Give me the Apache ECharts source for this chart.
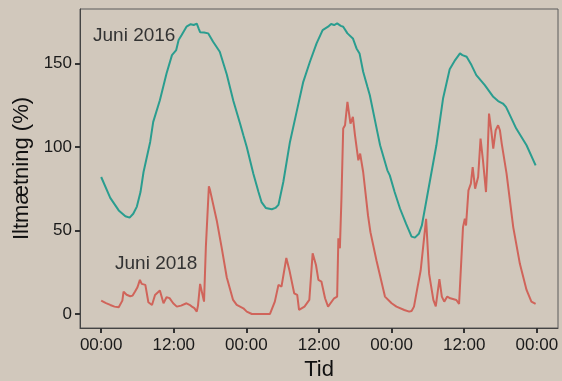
<!DOCTYPE html>
<html>
<head>
<meta charset="utf-8">
<script src="https://cdn.jsdelivr.net/npm/echarts@6/dist/echarts.min.js"></script>
<style>
html,body{margin:0;padding:0;background:#d1c8bc;}
#chart{width:562px;height:381px;}
</style>
</head>
<body>
<div id="chart"></div>
<script>
// Hours since start (x) and oxygen saturation % (y)
var hours2016 = [0,1.5,2.9,4.0,4.7,5.3,5.9,6.5,7.0,8.1,8.6,9.7,10.8,11.7,12.4,12.8,13.3,14.1,14.8,15.3,15.8,16.1,16.35,17.0,17.7,18.0,18.5,19.6,20.75,21.85,22.95,23.5,24.06,25.15,26.0,26.5,27.2,28.2,28.8,29.3,30.1,31.2,32.3,33.4,34.5,35.6,36.6,37.5,38.0,38.5,39.0,39.6,40.0,40.7,41.6,42.2,42.7,43.3,44.0,44.4,45.7,46.1,47.3,47.7,48.5,49.4,50.4,51.3,51.85,52.5,53.0,54.3,55.4,56.5,57.6,58.5,59.3,59.7,60.4,61.2,62.0,63.4,64.8,65.6,66.4,66.9,67.3,68.6,70.3,71.8];
var values2016 = [82,69.5,62,58.5,57.7,60,64.3,73,85,103,115,128,144,155,158,164,167,172,173.5,173,173.8,171,168.7,168.5,168,167,163,157,143.5,127.5,114,107,100,84,73,67,63.5,62.7,63.5,65.3,79,103,121,139,151,162,170,172,173.6,173,174,172.5,172,168,165,159,156,145,136,131,108,101,86,83,73,63,54,46.3,45.7,48,53,79,101,129,146.5,152,156,155,154,149,143,137,130,127.5,126,124,121,111,101,89];

var hours2018 = [0,0.8,1.5,2.2,2.9,3.1,3.5,3.7,4.2,4.8,5.2,5.6,6.0,6.4,6.7,7.0,7.3,7.8,8.4,8.9,9.2,9.7,10.0,10.3,10.8,11.3,11.9,12.5,13.2,14.1,14.6,15.0,15.4,15.8,16.0,16.35,17.0,17.3,17.8,18.0,19.1,19.9,20.75,21.8,22.4,23.5,24.06,24.9,27.9,28.7,29.3,29.8,30.6,31.1,31.9,32.4,32.7,33.6,34.4,34.95,35.5,35.9,36.4,37.0,37.5,37.8,38.5,39.0,39.2,39.45,39.7,40.0,40.3,40.7,41.2,41.6,41.95,42.5,42.8,43.3,44.1,44.5,45.5,46.9,48.0,48.8,50.1,50.9,51.3,51.7,52.3,52.8,53.7,54.2,54.9,55.3,55.9,56.3,56.7,57.2,57.7,58.7,59.15,59.8,60.1,60.3,60.7,61.1,61.4,61.8,62.3,62.7,63.1,63.6,63.8,64.1,64.5,64.8,65.2,65.6,65.9,66.2,67.0,68.1,69.2,70.3,71.1,71.8];
var values2018 = [8,6.5,5.4,4.4,4,3,8,13.4,11.5,10.6,11,13.4,16,20.4,18,18.4,17.4,7,5.4,11.4,11.4,14,14.4,6.4,10,9.5,6.4,4.4,5,6.4,5.5,4.4,3.5,1.4,5,18,7.4,40,76.5,74,56,40,22,8.4,5.4,3.4,1.4,0,0,7.4,17.4,16.4,33.5,26.4,12.4,11.4,2.4,4.4,8.4,36.3,29.3,20.4,19.4,9.4,4.4,4.4,9.4,10.4,45.3,39.3,68,111,113,127,114,118,107,92,96,85,59,49,32,10.4,6.4,4.4,2.4,1.4,1.8,4.4,16.4,26,57,24,8.4,4.6,20.8,10.4,7.4,10.4,9.4,8.4,6,52,57,53,74,78,88,75,82,105,92,73,89,120,109,99,110,113,110,102,84,52,30,14.4,7.4,6];

var xTickHours = [0,12,24,36,48,60,72];
var xTickLabels = ["00:00","12:00","00:00","12:00","00:00","12:00","00:00"];
var yTicks = [0,50,100,150];

function zip(xs, ys){ return xs.map(function(x,i){ return [x, ys[i]]; }); }

var FONT = '"Liberation Sans", Arial, sans-serif';
var chart = echarts.init(document.getElementById('chart'));
chart.setOption({
  backgroundColor: '#d1c8bc',
  animation: false,
  grid: {left: 80, right: 4, top: 9, bottom: 53, containLabel: false, outerBoundsMode: 'none',
    show: true, borderColor: '#5a5a5a', borderWidth: 1, backgroundColor: 'transparent'},
  xAxis: {
    type: 'value', min: -3.5, max: 75.5,
    name: 'Tid', nameLocation: 'middle', nameGap: 31,
    nameTextStyle: {fontFamily: FONT, fontSize: 22, color: '#111'},
    axisLine: {show: true, onZero: false, lineStyle: {color: '#444', width: 1}},
    axisTick: {show: true, customValues: xTickHours, length: 5, lineStyle: {color: '#333', width: 2}},
    axisLabel: {customValues: xTickHours, fontFamily: FONT, fontSize: 17, color: '#1a1a1a', margin: 9,
      formatter: function(v){ var i = xTickHours.indexOf(v); return i >= 0 ? xTickLabels[i] : ''; }},
    splitLine: {show: false}
  },
  yAxis: {
    type: 'value', min: -8.4, max: 182.6,
    name: 'Iltmætning (%)', nameLocation: 'middle', nameGap: 45,
    nameTextStyle: {fontFamily: FONT, fontSize: 22, color: '#111'},
    axisLine: {show: true, onZero: false, lineStyle: {color: '#444', width: 1}},
    axisTick: {show: true, customValues: yTicks, length: 5, lineStyle: {color: '#333', width: 2}},
    axisLabel: {customValues: yTicks, fontFamily: FONT, fontSize: 17, color: '#1a1a1a', margin: 8},
    splitLine: {show: false}
  },
  graphic: [
    {type: 'text', left: 93, top: 26, style: {text: 'Juni 2016', fill: '#333', font: '19px ' + FONT}, z: 10},
    {type: 'text', left: 115, top: 254, style: {text: 'Juni 2018', fill: '#333', font: '19px ' + FONT}, z: 10}
  ],
  series: [
    {type: 'line', name: 'Juni 2016', data: zip(hours2016, values2016), showSymbol: false, symbol: 'none',
      lineStyle: {color: '#2a9d8f', width: 2}, itemStyle: {color: '#2a9d8f'}},
    {type: 'line', name: 'Juni 2018', data: zip(hours2018, values2018), showSymbol: false, symbol: 'none',
      lineStyle: {color: '#d0645a', width: 2}, itemStyle: {color: '#d0645a'}}
  ]
});
</script>
</body>
</html>
